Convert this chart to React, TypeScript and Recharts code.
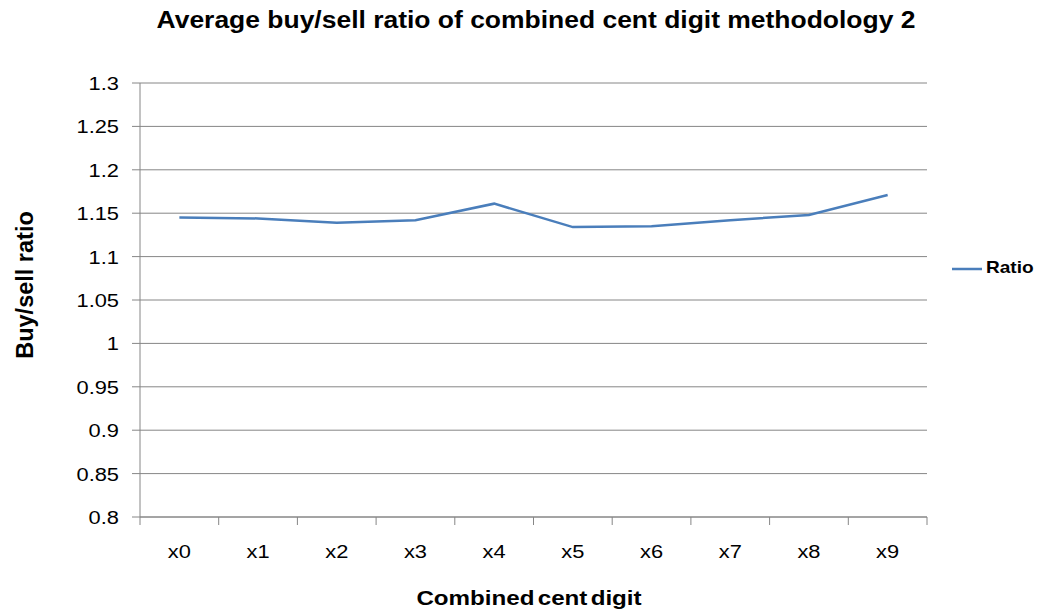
import { LineChart, Line, XAxis, YAxis, CartesianGrid } from 'recharts';

const categories = ['x0', 'x1', 'x2', 'x3', 'x4', 'x5', 'x6', 'x7', 'x8', 'x9'];
const ratio = [1.145, 1.144, 1.139, 1.142, 1.161, 1.134, 1.135, 1.142, 1.148, 1.171];
const yTicks = [0.8, 0.85, 0.9, 0.95, 1, 1.05, 1.1, 1.15, 1.2, 1.25, 1.3];

const data = categories.map((c, i) => ({ cat: c, ratio: ratio[i] }));

const W = 1038;
const H = 613;
const margin = { top: 83, right: 111, bottom: 0, left: 0 };
const yAxisWidth = 140;
const xAxisHeight = 96;
const band = (W - margin.right - yAxisWidth) / categories.length;
const font = 'Liberation Sans, Arial, sans-serif';
const axisGray = '#868686';
const stretch = 1.15; // reference text looks a bit wide

// excel-style category ticks: marks on band edges, labels in the middle
function CatTick(props: any) {
  const { x, y, payload, index } = props;
  const left = x - band / 2;
  return (
    <g>
      <line x1={left} y1={y} x2={left} y2={y + 8} stroke={axisGray} />
      {index === categories.length - 1 && (
        <line x1={x + band / 2} y1={y} x2={x + band / 2} y2={y + 8} stroke={axisGray} />
      )}
      <text
        transform={`translate(${x},${y + 41}) scale(${stretch},1)`}
        textAnchor="middle"
        fontSize={19}
        fontFamily={font}
        fill="#000"
      >
        {payload.value}
      </text>
    </g>
  );
}

function ValTick(props: any) {
  const { x, y, payload } = props;
  return (
    <text
      transform={`translate(${x},${y + 7}) scale(${stretch},1)`}
      textAnchor="end"
      fontSize={19}
      fontFamily={font}
      fill="#000"
    >
      {payload.value}
    </text>
  );
}

const boldText = { position: 'absolute' as const, fontFamily: font, fontWeight: 'bold' as const, color: '#000', whiteSpace: 'nowrap' as const };

export default function App() {
  return (
    <div style={{ position: 'absolute', left: 0, top: 0, width: W, height: H, background: '#fff' }}>
      <LineChart width={W} height={H} data={data} margin={margin}>
        <CartesianGrid vertical={false} stroke={axisGray} />
        <XAxis
          dataKey="cat"
          tick={<CatTick />}
          tickLine={false}
          tickSize={0}
          tickMargin={0}
          axisLine={{ stroke: axisGray }}
          interval={0}
          height={xAxisHeight}
          padding={{ left: band / 2, right: band / 2 }}
        />
        <YAxis
          type="number"
          domain={[0.8, 1.3]}
          ticks={yTicks}
          width={yAxisWidth}
          tickSize={8}
          tickMargin={13}
          tickLine={{ stroke: axisGray }}
          axisLine={{ stroke: axisGray }}
          tick={<ValTick />}
          interval={0}
        />
        <Line
          dataKey="ratio"
          name="Ratio"
          stroke="#4a7ebb"
          strokeWidth={2.5}
          dot={false}
          isAnimationActive={false}
        />
      </LineChart>

      <div style={{ ...boldText, top: 7, left: 536, fontSize: 23, transform: 'translateX(-50%) scaleX(1.15)' }}>
        Average buy/sell ratio of combined cent digit methodology 2
      </div>
      <div style={{ ...boldText, top: 586, left: 529, fontSize: 21, transform: `translateX(-50%) scaleX(${stretch})`, wordSpacing: -3 }}>
        Combined cent digit
      </div>
      <div style={{ ...boldText, top: 285, left: 25, fontSize: 23.5, transform: 'translate(-50%,-50%) rotate(-90deg) scaleY(1.05)' }}>
        Buy/sell ratio
      </div>

      {/* legend */}
      <div style={{ position: 'absolute', left: 951, top: 258, display: 'flex', alignItems: 'center', fontFamily: font }}>
        <svg width={32} height={20}>
          <line x1={1} y1={11} x2={31} y2={11} stroke="#4a7ebb" strokeWidth={2.5} />
        </svg>
        <span style={{ fontWeight: 'bold', fontSize: 17, marginLeft: 3, display: 'inline-block', transform: 'scaleX(1.12)', transformOrigin: 'left' }}>
          Ratio
        </span>
      </div>
    </div>
  );
}
